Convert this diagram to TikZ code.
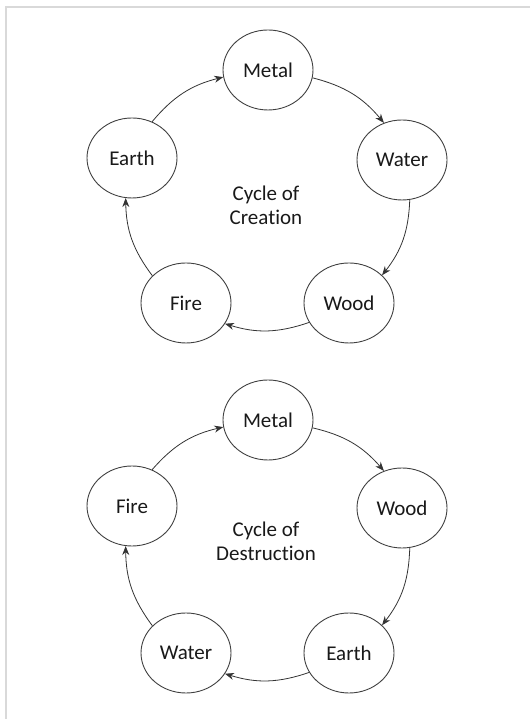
\documentclass[tikz,border=0pt]{standalone}
\usepackage{fontspec}
\setmainfont{Carlito}[Ligatures=NoCommon]
\usetikzlibrary{shapes.geometric}
\usetikzlibrary{arrows.meta}
\tikzstyle{line} = [draw=black!80, line width=0.8pt, -{Stealth[length=9pt,width=7pt]}]

\begin{document}
\begin{tikzpicture}[x=1pt, y=1pt]

	\tikzstyle{element} = [ellipse, draw=black!75, line width=0.9pt, minimum width=90pt, minimum height=80pt, inner sep=0pt, text=black!90, font=\fontsize{21}{24}\selectfont]
	\tikzstyle{caption} = [align=center, text=black!90, font=\fontsize{21}{24}\selectfont]

	\useasboundingbox (0,0) rectangle (530,719);
	\draw [black!15, line width=2pt] (5.5,0) -- (5.5,711.5) -- (530,711.5);

	% Cycle of creation
	\node [element] (c_metal) at (268,649) {Metal};
	\node [element] (c_earth) at (132,561) {Earth};
	\node [element] (c_water) at (402,559) {Water};
	\node [element] (c_fire)  at (186,416) {Fire};
	\node [element] (c_wood)  at (349,416) {Wood};
	\node [caption] (c_title) at (266,514) {Cycle of\\Creat{}ion};

	\path [line] (c_earth.61)  to[bend left=18] (c_metal.189);
	\path [line] (c_metal.350) to[bend left=18] (c_water.116);
	\path [line] (c_water.281) to[bend left=18] (c_wood.40);
	\path [line] (c_wood.206)  to[bend left=18] (c_fire.332);
	\path [line] (c_fire.141)  to[bend left=18] (c_earth.261);

	% Cycle of destruction
	\node [element] (d_metal) at (268,299) {Metal};
	\node [element] (d_fire)  at (132,213) {Fire};
	\node [element] (d_wood)  at (402,211) {Wood};
	\node [element] (d_water) at (186,66)  {Water};
	\node [element] (d_earth) at (349,66)  {Earth};
	\node [caption] (d_title) at (266,178) {Cycle of\\Destruct{}ion};

	\path [line] (d_fire.61)   to[bend left=18] (d_metal.189);
	\path [line] (d_metal.350) to[bend left=18] (d_wood.116);
	\path [line] (d_wood.281)  to[bend left=18] (d_earth.40);
	\path [line] (d_earth.206) to[bend left=18] (d_water.332);
	\path [line] (d_water.141) to[bend left=18] (d_fire.261);

\end{tikzpicture}
\end{document}
